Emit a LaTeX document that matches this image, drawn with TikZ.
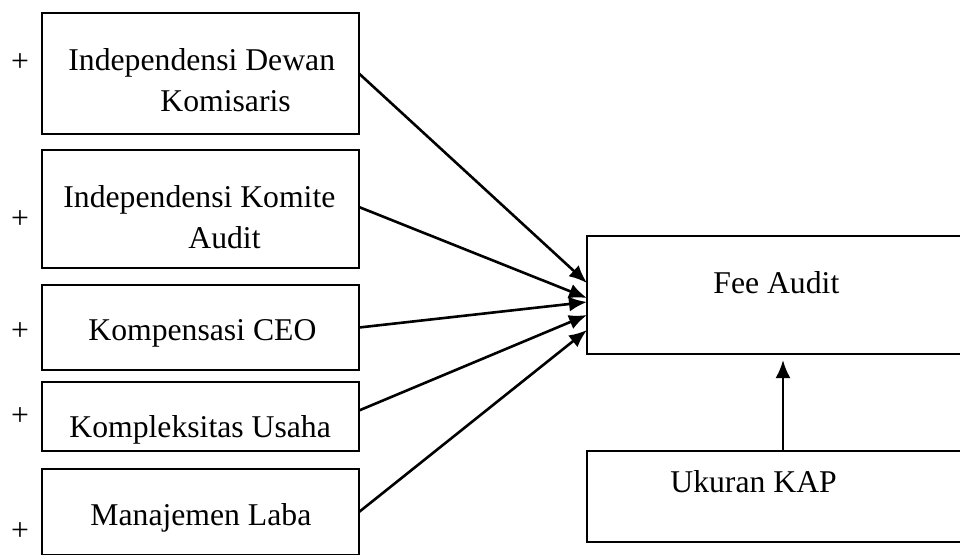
\documentclass[tikz,border=0pt]{standalone}
\usepackage{fontspec}
\setmainfont{Liberation Serif}
\usepackage{tikz}
\usetikzlibrary{arrows.meta}

\begin{document}
\begin{tikzpicture}[x=0.5pt,y=-0.5pt,
    font=\fontsize{15.85}{20.5}\selectfont,
    box/.style={draw, line width=1.2pt, inner sep=0pt, outer sep=0pt},
    lbl/.style={anchor=base west, inner sep=0pt, align=left},
    plus/.style={anchor=base, inner sep=0pt},
    arr/.style={-{Latex[length=9pt,width=7.5pt]}, line width=1.3pt}]
                \clip (0,0) rectangle (960,554);
                % kotak variabel
                \node [box, minimum width=158.5pt, minimum height=60.5pt] (dewan) at (200.5,73.5) {};
                \node [box, minimum width=158.5pt, minimum height=59pt] (komite) at (200.5,209) {};
                \node [box, minimum width=158.5pt, minimum height=42.5pt] (ceo) at (200.5,327.5) {};
                \node [box, minimum width=158.5pt, minimum height=34.5pt] (usaha) at (200.5,416.5) {};
                \node [box, minimum width=158.5pt, minimum height=43pt] (laba) at (200.5,512) {};
                \node [box, minimum width=196pt, minimum height=59pt] (fee) at (783,295) {};
                \node [box, minimum width=196pt, minimum height=45.5pt] (kap) at (783,496.5) {};
                % teks (base = baris terakhir)
                \node [lbl] (tdewan) at (68,111) {Independensi Dewan\\\hspace*{46pt}Komisaris};
                \node [lbl] (tkomite) at (63,248) {Independensi Komite\\\hspace*{62.5pt}Audit};
                \node [lbl] (tceo) at (88,340) {Kompensasi CEO};
                \node [lbl] (tusaha) at (69,437) {Kompleksitas Usaha};
                \node [lbl] (tlaba) at (90,525) {Manajemen Laba};
                \node [lbl] (tfee) at (713,293) {Fee Audit};
                \node [lbl] (tkap) at (670,492) {Ukuran KAP};
                \node [plus] (p1) at (20,71) {+};
                \node [plus] (p2) at (20,228) {+};
                \node [plus] (p3) at (20,340) {+};
                \node [plus] (p4) at (20,425) {+};
                \node [plus] (p5) at (20,540) {+};
                % panah
                \draw [arr] (dewan.east) -- ([yshift=6pt]fee.west);
                \draw [arr] ([yshift=1pt]komite.east) -- ([yshift=-1.5pt]fee.west);
                \draw [arr] (ceo.east) -- ([yshift=-3.5pt]fee.west);
                \draw [arr] ([yshift=3pt]usaha.east) -- ([yshift=-10pt]fee.west);
                \draw [arr] (laba.east) -- ([yshift=-17.5pt]fee.west);
                \draw [arr, shorten >=3pt] (kap.north) -- (fee.south);
            \end{tikzpicture}
\end{document}
